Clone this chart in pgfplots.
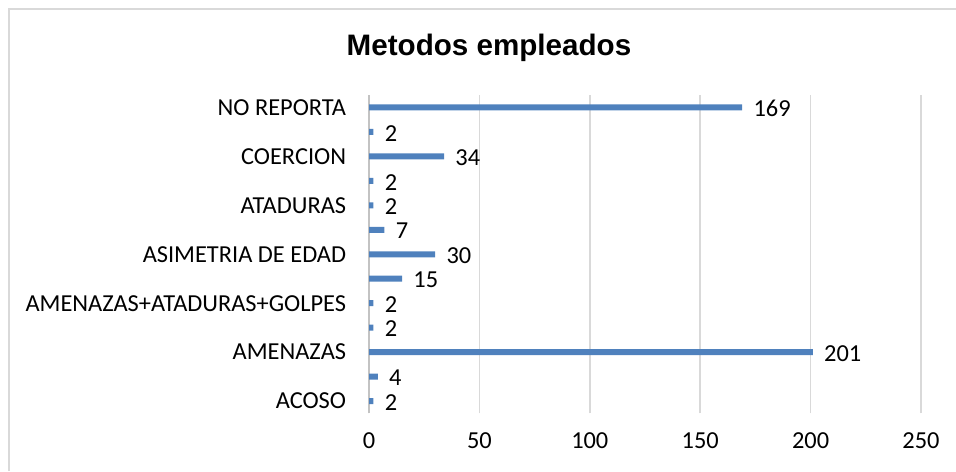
\documentclass[border=0pt]{standalone}
\usepackage{pgfplots}
\pgfplotsset{compat=1.18}
\usepackage{fontspec}
\setmainfont{Carlito}
\newfontfamily\titlefont{Liberation Sans}
\definecolor{barblue}{RGB}{79,129,189}
\definecolor{gridgray}{RGB}{217,217,217}
\begin{document}
\begin{tikzpicture}
\useasboundingbox (0,0) rectangle (717pt,353.25pt);
\draw[gridgray, line width=1.5pt] (7pt,0) -- (7pt,346.5pt) -- (717pt,346.5pt);
\node[font={\titlefont\bfseries\fontsize{22.2}{26}\selectfont}] at (366.75pt,317.25pt) {Metodos empleados};
\begin{axis}[
  at={(276.75pt,43.3pt)}, anchor=south west,
  scale only axis, width=414pt, height=238.5pt,
  xbar, bar width=4.5pt,
  xmin=0, xmax=250, ymin=-0.5, ymax=12.5,
  xtick={0,50,100,150,200,250},
  ytick={0,...,12},
  yticklabels={ACOSO,,AMENAZAS,,AMENAZAS+ATADURAS+GOLPES,,ASIMETRIA DE EDAD,,ATADURAS,,COERCION,,NO REPORTA},
  xmajorgrids, major grid style={gridgray, line width=1.1pt},
  axis lines*=left,
  x axis line style={draw=none},
  y axis line style={draw=gridgray!90!black, line width=1pt},
  major tick length=0pt,
  tick label style={font=\fontsize{18.3}{20}\selectfont},
  /pgf/number format/assume math mode=true,
  yticklabel style={inner sep=0pt, xshift=-17pt},
  xticklabel style={inner sep=0pt, yshift=-14pt},
  nodes near coords,
  every node near coord/.append style={font=\fontsize{18.3}{20}\selectfont, xshift=5pt, yshift=-1pt, /pgf/number format/assume math mode=true, black},
]
\addplot[fill=barblue, draw=none] coordinates {
(2,0) (4,1) (201,2) (2,3) (2,4) (15,5) (30,6) (7,7) (2,8) (2,9) (34,10) (2,11) (169,12)
};
\end{axis}
\end{tikzpicture}
\end{document}
